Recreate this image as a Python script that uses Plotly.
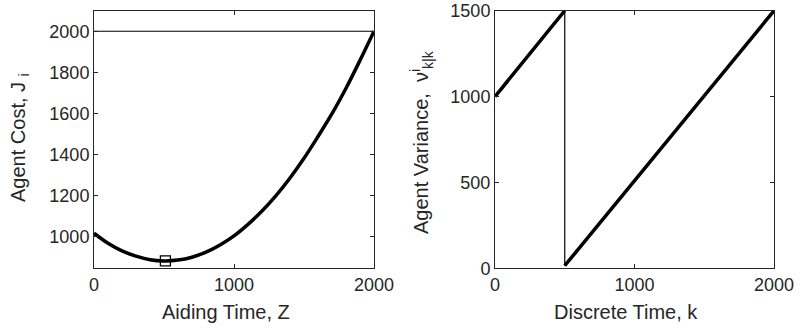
import plotly.graph_objects as go

# Left panel: agent cost vs aiding time
aiding_time = [0, 100, 200, 300, 400, 500, 600, 700, 800, 900, 1000,
               1100, 1200, 1300, 1400, 1500, 1600, 1700, 1800, 1900, 2000]
agent_cost = [1016, 967, 930, 904, 887, 881, 885, 899, 924, 959, 1003,
              1059, 1124, 1199, 1285, 1381, 1487, 1598, 1722, 1858, 2000]
best_time = [510]
best_cost = [881]
cost_ref_time = [0, 2000]
cost_ref = [2000, 2000]

# Right panel: agent variance vs discrete time
k_before = [0, 500]
var_before = [1000, 1500]
k_after = [500, 2000]
var_after = [15, 1500]

FONT = "Liberation Sans, Arial, Helvetica, sans-serif"
AX = "#262626"
W, H = 806, 332


def px(x):
    return x / W


def py(y):
    return 1 - y / H


fig = go.Figure()

# left plot
fig.add_trace(go.Scatter(x=cost_ref_time, y=cost_ref, mode='lines',
                         line=dict(color='black', width=1.2),
                         xaxis='x', yaxis='y'))
fig.add_trace(go.Scatter(x=aiding_time, y=agent_cost, mode='lines',
                         line=dict(color='black', width=3.5, shape='spline'),
                         xaxis='x', yaxis='y'))
fig.add_trace(go.Scatter(x=best_time, y=best_cost, mode='markers',
                         marker=dict(symbol='square-open', size=10, color='black',
                                     line=dict(width=1.3, color='black')),
                         xaxis='x', yaxis='y'))

# right plot: thin connecting line, thick segments on top
fig.add_trace(go.Scatter(x=k_before + k_after, y=var_before + var_after, mode='lines',
                         line=dict(color='black', width=1.2),
                         xaxis='x2', yaxis='y2'))
fig.add_trace(go.Scatter(x=k_before, y=var_before, mode='lines',
                         line=dict(color='black', width=3.5),
                         xaxis='x2', yaxis='y2'))
fig.add_trace(go.Scatter(x=k_after, y=var_after, mode='lines',
                         line=dict(color='black', width=3.5),
                         xaxis='x2', yaxis='y2'))

ydom = [py(268.3), py(10.7)]
common = dict(showline=True, mirror='ticks', linecolor=AX, linewidth=1,
              ticks='inside', ticklen=4, tickcolor=AX, showgrid=False,
              zeroline=False, automargin=False, ticklabeloverflow='allow',
              tickfont=dict(family=FONT, size=18, color=AX))

fig.update_layout(
    width=W, height=H,
    margin=dict(l=0, r=0, t=0, b=0, autoexpand=False),
    paper_bgcolor='white', plot_bgcolor='white',
    showlegend=False,
    xaxis=dict(domain=[px(94), px(374)], range=[0, 2000], tickvals=[0, 1000, 2000],
               anchor='y', **common),
    yaxis=dict(domain=ydom, range=[845, 2100],
               tickvals=[1000, 1200, 1400, 1600, 1800, 2000], anchor='x', **common),
    xaxis2=dict(domain=[px(495), px(774)], range=[0, 2000], tickvals=[0, 1000, 2000],
                anchor='y2', **common),
    yaxis2=dict(domain=ydom, range=[0, 1500], tickvals=[0, 500, 1000, 1500],
                anchor='x2', **common),
)

tfont = dict(family=FONT, size=20, color=AX)
fig.add_annotation(text="Aiding Time, Z", x=px(226), y=py(311.7),
                   xref='paper', yref='paper', showarrow=False, font=tfont,
                   xanchor='center', yanchor='middle')
fig.add_annotation(text="Discrete Time, k", x=px(626), y=py(311.7),
                   xref='paper', yref='paper', showarrow=False, font=tfont,
                   xanchor='center', yanchor='middle')
fig.add_annotation(text="Agent Cost, J <sub>i</sub>", x=px(19), y=py(138),
                   xref='paper', yref='paper', showarrow=False, font=tfont,
                   textangle=-90, xanchor='center', yanchor='middle')
fig.add_annotation(text="Agent Variance,  ν<sup>i</sup><sub>k|k</sub>", x=px(421), y=py(142),
                   xref='paper', yref='paper', showarrow=False, font=tfont,
                   textangle=-90, xanchor='center', yanchor='middle')

# drop the page's default body margin so the figure sits at the top-left corner
fig.write_html("out.html", config={'displayModeBar': False},
               post_script="document.body.style.margin = '0';")
